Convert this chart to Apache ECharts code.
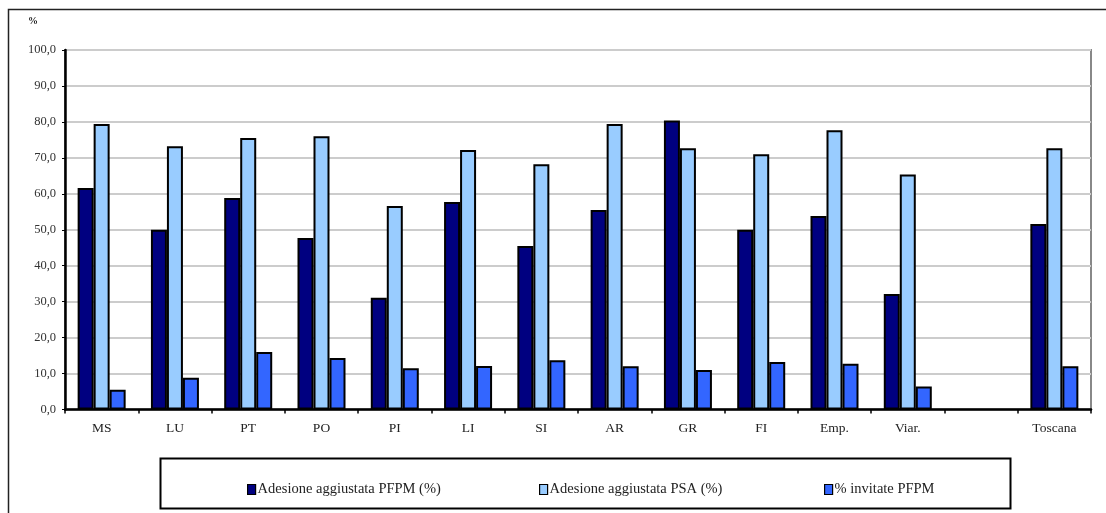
<!DOCTYPE html>
<html>
<head>
<meta charset="utf-8">
<script src="https://cdn.jsdelivr.net/npm/echarts@6/dist/echarts.min.js"></script>
<style>
  html, body { margin: 0; padding: 0; background: #fff; }
  #chart { width: 1106px; height: 513px; }
</style>
</head>
<body>
<div id="chart"></div>
<script>
// Areas (empty slot separates the provinces from the regional total)
const categories = ['MS', 'LU', 'PT', 'PO', 'PI', 'LI', 'SI', 'AR', 'GR', 'FI', 'Emp.', 'Viar.', '', 'Toscana'];

const adesionePFPM = [61.6, 50.0, 58.8, 47.7, 31.1, 57.7, 45.5, 55.5, 80.4, 50.0, 53.8, 32.1, null, 51.6];
const adesionePSA  = [79.4, 73.2, 75.5, 76.0, 56.6, 72.2, 68.2, 79.4, 72.7, 71.0, 77.7, 65.4, null, 72.7];
const invitatePFPM = [5.5, 8.8, 16.0, 14.3, 11.5, 12.1, 13.7, 12.0, 11.0, 13.2, 12.7, 6.4, null, 12.0];

const seriesNames = ['Adesione aggiustata PFPM (%)', 'Adesione aggiustata PSA (%)', '% invitate PFPM'];
const seriesColors = ['#000080', '#99CCFF', '#3366FF'];

const FONT = '"Liberation Serif", "DejaVu Serif", serif';

const chart = echarts.init(document.getElementById('chart'), null, { renderer: 'canvas' });

const values = [adesionePFPM, adesionePSA, invitatePFPM];
const series = values.map((arr, i) => ({
  name: seriesNames[i],
  type: 'bar',
  data: arr,
  barWidth: 16,
  barGap: '0%',
  itemStyle: { color: seriesColors[i], borderColor: '#000', borderWidth: 2 }
}));

const legendLefts = [242, 534, 819];
const legends = seriesNames.map((name, i) => ({
  data: [name],
  left: legendLefts[i],
  top: 477,
  icon: 'rect',
  itemWidth: 8,
  itemHeight: 10,
  itemGap: 2,
  itemStyle: { borderColor: '#000', borderWidth: 1.2 },
  textStyle: { fontFamily: FONT, fontSize: 14.5, color: '#222', padding: [0, 0, 0, -3] },
  selectedMode: false
}));

chart.setOption({
  animation: false,
  backgroundColor: '#fff',
  textStyle: { fontFamily: FONT },
  grid: {
    left: 65, right: 15, top: 50, bottom: 103.5,
    show: true, borderColor: '#888', borderWidth: 2
  },
  legend: legends,
  xAxis: {
    type: 'category',
    data: categories,
    boundaryGap: true,
    axisLine: { lineStyle: { color: '#000', width: 2.5 } },
    axisTick: { show: true, interval: 0, length: 4, lineStyle: { color: '#000', width: 1.5 } },
    axisLabel: { interval: 0, fontFamily: FONT, fontSize: 13.5, color: '#222', margin: 12 }
  },
  yAxis: {
    type: 'value',
    min: 0, max: 100, interval: 10,
    axisLine: { show: true, lineStyle: { color: '#000', width: 2.5 } },
    axisTick: { show: true, length: 3, lineStyle: { color: '#000', width: 1 } },
    axisLabel: {
      fontFamily: FONT, fontSize: 12.5, color: '#333', margin: 9,
      formatter: v => v.toFixed(1).replace('.', ',')
    },
    splitLine: { lineStyle: { color: '#cccccc', width: 2 } }
  },
  graphic: [
    {
      type: 'rect', silent: true, z: -1,
      shape: { x: 8.5, y: 9.5, width: 1120, height: 520 },
      style: { fill: 'none', stroke: '#222', lineWidth: 1.5 }
    },
    {
      type: 'text', left: 28, top: 16,
      style: { text: '%', font: 'bold 10px ' + FONT, fill: '#222' }
    },
    {
      type: 'rect', silent: true, z: -1,
      shape: { x: 160.5, y: 458.5, width: 850, height: 50 },
      style: { fill: '#fff', stroke: '#000', lineWidth: 2 }
    }
  ],
  series: series
});
</script>
</body>
</html>
